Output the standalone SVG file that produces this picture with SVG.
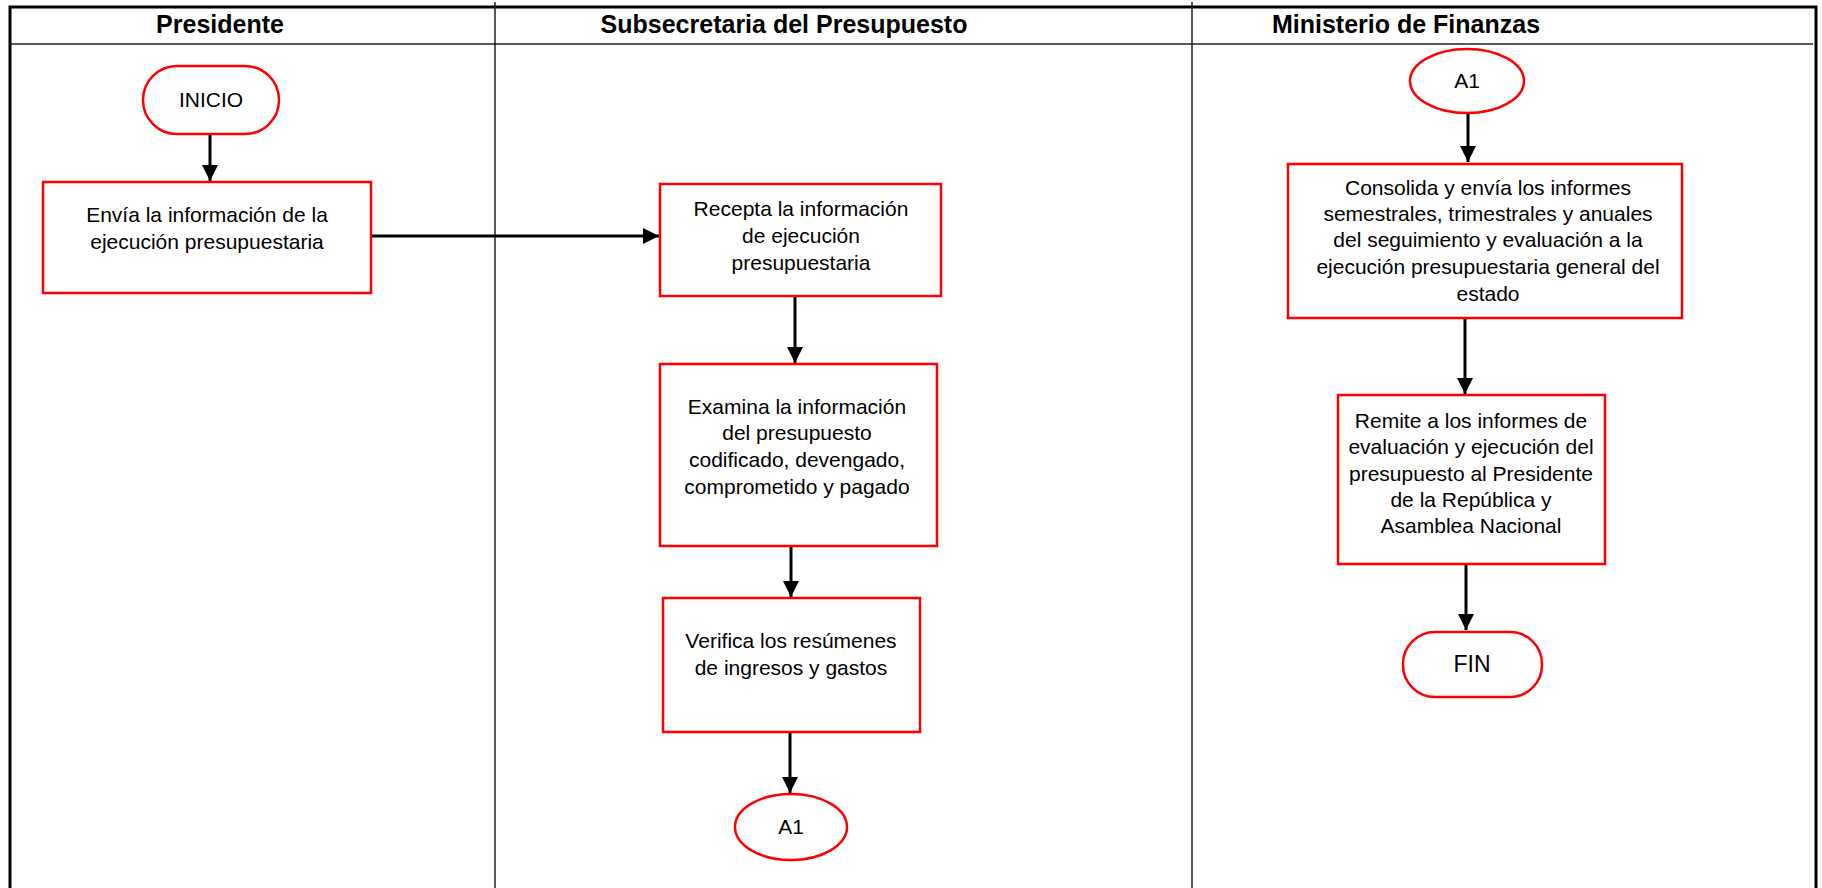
<svg xmlns="http://www.w3.org/2000/svg" width="1822" height="888" viewBox="0 0 1822 888">
<style>
.frame{fill:none;stroke:#000;stroke-width:3}
.thin{fill:none;stroke:#222;stroke-width:1.5}
.hdr{font-family:"Liberation Sans",Arial,sans-serif;font-weight:bold;font-size:25px;fill:#000;text-anchor:middle}
.box{fill:#fff;stroke:#ff0000;stroke-width:2.5}
.t{font-family:"Liberation Sans",Arial,sans-serif;font-size:21px;fill:#000;text-anchor:middle}
.conn{fill:none;stroke:#000;stroke-width:3;marker-end:url(#arr)}
</style>
<defs>
<marker id="arr" markerWidth="18" markerHeight="18" refX="16" refY="8" orient="auto" markerUnits="userSpaceOnUse" viewBox="0 0 18 16">
<path d="M0,0 L16,8 L0,16 Z" fill="#000"/>
</marker>
</defs>
<rect width="1822" height="888" fill="#fff"/>
<g id="frame">
<path class="frame" d="M10,888 V7 H1816 V888"/>
<line class="thin" x1="10" y1="44" x2="1813" y2="44"/>
<line class="thin" x1="495" y1="2" x2="495" y2="888"/>
<line class="thin" x1="1192" y1="2" x2="1192" y2="888"/>
<text class="hdr" x="220" y="33">Presidente</text>
<text class="hdr" x="784" y="33">Subsecretaria del Presupuesto</text>
<text class="hdr" x="1406" y="33">Ministerio de Finanzas</text>
</g>
<g id="connectors">
<line class="conn" x1="210" y1="134" x2="210" y2="181"/>
<line class="conn" x1="371" y1="236" x2="659" y2="236"/>
<line class="conn" x1="795" y1="296" x2="795" y2="363"/>
<line class="conn" x1="791" y1="546" x2="791" y2="597"/>
<line class="conn" x1="790" y1="732" x2="790" y2="793"/>
<line class="conn" x1="1468" y1="114" x2="1468" y2="162"/>
<line class="conn" x1="1465" y1="318" x2="1465" y2="394"/>
<line class="conn" x1="1466" y1="564" x2="1466" y2="630"/>
</g>
<g id="inicio">
<rect class="box" x="143" y="66" width="136" height="68" rx="34"/>
<text class="t" x="211" y="107">INICIO</text>
</g>
<g id="envia">
<rect class="box" x="43" y="182" width="328" height="111"/>
<text class="t" x="207" y="222">Envía la información de la</text>
<text class="t" x="207" y="249">ejecución presupuestaria</text>
</g>
<g id="recepta">
<rect class="box" x="660" y="184" width="281" height="112"/>
<text class="t" x="801" y="216">Recepta la información</text>
<text class="t" x="801" y="243">de ejecución</text>
<text class="t" x="801" y="270">presupuestaria</text>
</g>
<g id="examina">
<rect class="box" x="660" y="364" width="277" height="182"/>
<text class="t" x="797" y="414">Examina la información</text>
<text class="t" x="797" y="440">del presupuesto</text>
<text class="t" x="797" y="467">codificado, devengado,</text>
<text class="t" x="797" y="494">comprometido y pagado</text>
</g>
<g id="verifica">
<rect class="box" x="663" y="598" width="257" height="134"/>
<text class="t" x="791" y="648">Verifica los resúmenes</text>
<text class="t" x="791" y="675">de ingresos y gastos</text>
</g>
<g id="a1-out">
<ellipse class="box" cx="791" cy="827" rx="56" ry="33"/>
<text class="t" x="791" y="834">A1</text>
</g>
<g id="a1-in">
<ellipse class="box" cx="1467" cy="81" rx="57" ry="32"/>
<text class="t" x="1467" y="88">A1</text>
</g>
<g id="consolida">
<rect class="box" x="1288" y="164" width="394" height="154"/>
<text class="t" x="1488" y="195">Consolida y envía los informes</text>
<text class="t" x="1488" y="221">semestrales, trimestrales y anuales</text>
<text class="t" x="1488" y="247">del seguimiento y evaluación a la</text>
<text class="t" x="1488" y="274">ejecución presupuestaria general del</text>
<text class="t" x="1488" y="301">estado</text>
</g>
<g id="remite">
<rect class="box" x="1338" y="395" width="267" height="169"/>
<text class="t" x="1471" y="428">Remite a los informes de</text>
<text class="t" x="1471" y="454">evaluación y ejecución del</text>
<text class="t" x="1471" y="481">presupuesto al Presidente</text>
<text class="t" x="1471" y="507">de la República y</text>
<text class="t" x="1471" y="533">Asamblea Nacional</text>
</g>
<g id="fin">
<rect class="box" x="1403" y="632" width="139" height="65" rx="32"/>
<text class="t" x="1472" y="672" style="font-size:23px">FIN</text>
</g>
</svg>
